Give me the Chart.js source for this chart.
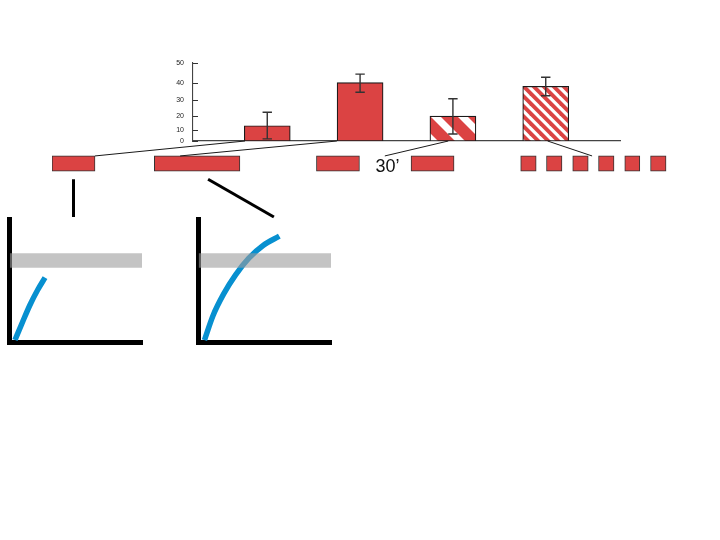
<!DOCTYPE html>
<html lang="en">
<head>
    <meta charset="UTF-8">
    <title>Stimulation protocols</title>
    <script src="https://cdn.jsdelivr.net/npm/chart.js"></script>
    <style>
        body { margin: 0; background: #fff; }
        #page { position: relative; width: 720px; height: 540px; overflow: hidden; }
        canvas { position: absolute; }
        #barChart { left: 0; top: 0; }
        #timeline { left: 0; top: 0; z-index: 2; }
        #earlyPlot { left: 0; top: 205px; }
        #latePlot { left: 190px; top: 205px; }
    </style>
</head>
<body>
<div id="page">
    <canvas id="barChart" width="720" height="160"></canvas>
    <canvas id="earlyPlot" width="150" height="145"></canvas>
    <canvas id="latePlot" width="150" height="145"></canvas>
    <canvas id="timeline" width="720" height="225"></canvas>
</div>

<script>
    // bar chart data
    const groups = [1, 2, 3, 4];
    const meanValues = [13, 40, 20, 38];
    const errLow = [2, 34.7, 6.3, 32.7];
    const errHigh = [22.5, 44.4, 31, 42.8];
    const yMax = 50;
    const yStep = 10;

    // protocol blocks on the time line, [start, end]
    const blocks = [
        [0, 1], [2.38, 4.37], [6.15, 7.15], [8.35, 9.35],
        [10.9, 11.26], [11.5, 11.86], [12.11, 12.47], [12.71, 13.07], [13.32, 13.67], [13.92, 14.28]
    ];
    const restLabel = '30’';
    const restLabelAt = 7.8;

    // connector lines: bar position <-> time position
    const connBarX = [0.76, 1.75, 2.95, 4.02];
    const connTimeX = [1.0, 2.98, 7.74, 12.56];
    // links from time line down to the two small plots
    const linkFromT = [0.5, 3.63];
    const linkToT = [0.5, 5.16];

    // small plots
    const earlyX = [0.4, 0.98, 1.53, 2.1, 2.67];
    const earlyY = [0.2, 1.69, 3.05, 4.25, 5.28];
    const lateX = [0.45, 1.1, 1.9, 2.8, 3.8, 4.9, 6.1];
    const lateY = [0.2, 2.2, 3.95, 5.5, 6.85, 7.9, 8.65];
    const band = [6.08, 7.25];

    const RED = '#db4343';
    const BLUE = '#0790d0';
    const FONT = '"Liberation Sans", Arial, sans-serif';

    // y axis of the bar chart is slightly stretched at the top
    const Q = 0.0102;
    class QuadScale extends Chart.LinearScale {
        getPixelForValue(value) {
            const f = v => v + Q * v * v;
            return this.getPixelForDecimal((f(value) - f(this.min)) / (f(this.max) - f(this.min)));
        }
        getValueForPixel(pixel) {
            const F = this.getDecimalForPixel(pixel) * (this.max + Q * this.max * this.max);
            return (-1 + Math.sqrt(1 + 4 * Q * F)) / (2 * Q);
        }
    }
    QuadScale.id = 'quad';
    QuadScale.defaults = Chart.LinearScale.defaults;
    Chart.register(QuadScale);

    function stripePattern(period, white, offset) {
        const c = document.createElement('canvas');
        c.width = c.height = period;
        const g = c.getContext('2d');
        g.fillStyle = RED;
        g.fillRect(0, 0, period, period);
        g.fillStyle = '#fff';
        for (let k = -2; k <= 1; k++) {
            const a = offset + k * period;
            g.beginPath();
            g.moveTo(a, 0);
            g.lineTo(a + white, 0);
            g.lineTo(a + white + period, period);
            g.lineTo(a + period, period);
            g.closePath();
            g.fill();
        }
        return g.createPattern(c, 'repeat');
    }

    const errorBars = {
        id: 'errorBars',
        afterDatasetsDraw(chart) {
            const {ctx, scales: {x, y}} = chart;
            ctx.save();
            ctx.strokeStyle = '#333';
            ctx.lineWidth = 1.4;
            groups.forEach((g, i) => {
                const px = x.getPixelForValue(g);
                const lo = y.getPixelForValue(errLow[i]);
                const hi = y.getPixelForValue(errHigh[i]);
                ctx.beginPath();
                ctx.moveTo(px, lo); ctx.lineTo(px, hi);
                ctx.moveTo(px - 4.7, lo); ctx.lineTo(px + 4.7, lo);
                ctx.moveTo(px - 4.7, hi); ctx.lineTo(px + 4.7, hi);
                ctx.stroke();
            });
            ctx.restore();
        },
        afterDraw(chart) {
            // short inward tick marks
            const {ctx, scales: {y}} = chart;
            ctx.save();
            ctx.strokeStyle = '#333';
            ctx.lineWidth = 1;
            y.ticks.forEach(t => {
                const py = Math.round(y.getPixelForValue(t.value)) + 0.5;
                ctx.beginPath();
                ctx.moveTo(y.right, py);
                ctx.lineTo(y.right + 5, py);
                ctx.stroke();
            });
            ctx.restore();
        }
    };

    const barChart = new Chart(document.getElementById('barChart'), {
        type: 'bar',
        data: {
            datasets: [{
                data: groups.map((g, i) => ({x: g, y: meanValues[i]})),
                backgroundColor: [RED, RED, stripePattern(27, 10, 17), stripePattern(10, 4.5, 0)],
                borderColor: '#1a1a1a',
                borderWidth: 1.2,
                borderSkipped: false,
                barThickness: 46
            }]
        },
        options: {
            responsive: false,
            animation: false,
            events: [],
            layout: { padding: { left: 163, right: 100, top: 62.7, bottom: 19 } },
            plugins: { legend: { display: false }, tooltip: { enabled: false } },
            scales: {
                x: {
                    type: 'linear', min: 0.2, max: 4.8, offset: false,
                    grid: { display: false, drawTicks: false },
                    ticks: { display: false },
                    border: { color: '#444', width: 1.3 },
                    afterFit: s => { s.height = 0; }
                },
                y: {
                    type: 'quad', min: 0, max: yMax,
                    grid: { display: false, drawTicks: false },
                    border: { color: '#444', width: 1.1 },
                    ticks: { stepSize: yStep, padding: 9, color: '#222', font: { size: 7, family: FONT } },
                    afterFit: s => { s.width = 30; }
                }
            }
        },
        plugins: [errorBars]
    });

    function smallPlot(id, xs, ys, padLeft, padRight) {
        return new Chart(document.getElementById(id), {
            type: 'line',
            data: {
                datasets: [
                    { data: [{x: 0, y: band[1]}, {x: 10, y: band[1]}], borderWidth: 0, pointRadius: 0, fill: false },
                    { data: [{x: 0, y: band[0]}, {x: 10, y: band[0]}], borderWidth: 0, pointRadius: 0,
                      fill: '-1', backgroundColor: 'rgba(157,157,157,0.6)' },
                    { data: xs.map((x, i) => ({x, y: ys[i]})), borderColor: BLUE, borderWidth: 5.5,
                      pointRadius: 0, cubicInterpolationMode: 'monotone', borderCapStyle: 'butt', fill: false }
                ]
            },
            options: {
                responsive: false,
                animation: false,
                events: [],
                layout: { padding: { left: padLeft, right: padRight, top: 14.5, bottom: 7.5 } },
                plugins: { legend: { display: false }, tooltip: { enabled: false } },
                scales: {
                    x: {
                        type: 'linear', min: 0, max: 10,
                        grid: { display: false, drawTicks: false }, ticks: { display: false },
                        border: { color: '#000', width: 5 },
                        afterFit: s => { s.height = 0; }
                    },
                    y: {
                        type: 'linear', min: 0, max: 10,
                        grid: { display: false, drawTicks: false }, ticks: { display: false },
                        border: { color: '#000', width: 5 },
                        afterFit: s => { s.width = 0; }
                    }
                }
            }
        });
    }

    const earlyPlot = smallPlot('earlyPlot', earlyX, earlyY, 9.7, 8);
    const latePlot = smallPlot('latePlot', lateX, lateY, 8.5, 9);

    const timelineDecor = {
        id: 'timelineDecor',
        afterDraw(chart) {
            const {ctx, scales: {x}} = chart;
            const el = chart.getDatasetMeta(0).data[0];
            const top = el.y - el.height / 2;
            const bottom = el.y + el.height / 2;
            const bx = barChart.scales.x, by = barChart.scales.y;
            ctx.save();
            // thin connectors up to the bars
            ctx.strokeStyle = '#1a1a1a';
            ctx.lineWidth = 1;
            connBarX.forEach((v, i) => {
                ctx.beginPath();
                ctx.moveTo(x.getPixelForValue(connTimeX[i]), top);
                ctx.lineTo(bx.getPixelForValue(v), by.getPixelForValue(0));
                ctx.stroke();
            });
            // thick links down to the small plots
            const plotTop = 205 + earlyPlot.chartArea.top - 2.5;
            ctx.strokeStyle = '#000';
            ctx.lineWidth = 3;
            linkFromT.forEach((t, i) => {
                ctx.beginPath();
                ctx.moveTo(x.getPixelForValue(t), bottom + 8);
                ctx.lineTo(x.getPixelForValue(linkToT[i]), plotTop);
                ctx.stroke();
            });
            // rest interval label
            ctx.fillStyle = '#111';
            ctx.font = '18px ' + FONT;
            ctx.textAlign = 'center';
            ctx.textBaseline = 'alphabetic';
            ctx.fillText(restLabel, x.getPixelForValue(restLabelAt), bottom + 0.5);
            ctx.restore();
        }
    };

    new Chart(document.getElementById('timeline'), {
        type: 'bar',
        data: {
            labels: ['protocol'],
            datasets: blocks.map(b => ({
                data: [b],
                backgroundColor: RED,
                borderColor: '#333',
                borderWidth: 1,
                borderSkipped: false,
                barThickness: 15.3,
                grouped: false
            }))
        },
        options: {
            indexAxis: 'y',
            responsive: false,
            animation: false,
            events: [],
            layout: { padding: { left: 52, right: 0, top: 150, bottom: 47.8 } },
            plugins: { legend: { display: false }, tooltip: { enabled: false } },
            scales: {
                x: { type: 'linear', min: 0, max: (720 - 52) / 43, display: false },
                y: { type: 'category', display: false }
            }
        },
        plugins: [timelineDecor]
    });
</script>
</body>
</html>
